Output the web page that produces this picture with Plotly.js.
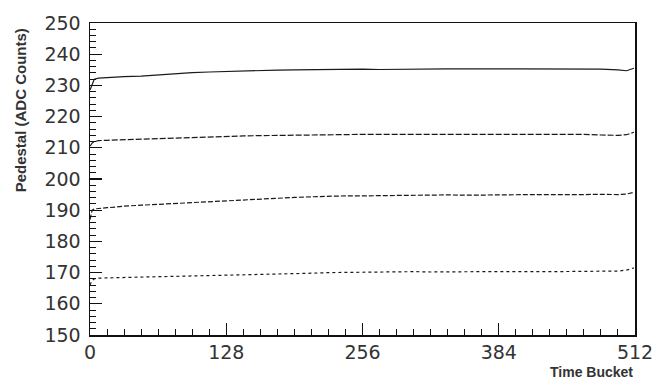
<!DOCTYPE html>
<html>
<head>
<meta charset="utf-8">
<script src="https://cdn.plot.ly/plotly-3.0.1.min.js"></script>
<style>html,body{margin:0;padding:0;background:#fff;}#chart{width:657px;height:382px;}</style>
</head>
<body>
<div id="chart"></div>
<script>
// Time bucket positions (sampled)
const bucket = [0,2,4,8,16,24,32,48,64,80,96,112,128,144,160,176,192,208,224,240,256,272,288,304,320,336,352,368,384,400,416,432,448,464,480,496,504,511];

// Pedestal values (ADC counts), one array per channel
const chanA = [228.5,230.5,232.0,232.3,232.5,232.6,232.8,233.0,233.4,233.8,234.1,234.3,234.5,234.7,234.8,234.9,235.0,235.1,235.0,235.2,235.2,235.1,235.2,235.3,235.2,235.3,235.3,235.2,235.3,235.3,235.3,235.4,235.3,235.2,235.2,235.0,234.7,235.5];
const chanB = [210.5,211.5,212.0,212.3,212.4,212.5,212.6,212.8,213.0,213.2,213.4,213.6,213.7,213.8,213.9,214.0,214.1,214.1,214.2,214.2,214.3,214.3,214.3,214.4,214.3,214.4,214.4,214.3,214.4,214.4,214.3,214.4,214.4,214.3,214.1,214.0,214.2,215.0];
const chanC = [187.0,190.0,190.4,190.6,190.8,191.0,191.3,191.6,191.9,192.1,192.4,192.7,193.0,193.3,193.7,193.9,194.1,194.3,194.5,194.6,194.6,194.7,194.8,194.8,194.9,194.9,194.8,194.9,195.0,194.9,195.0,195.0,194.9,195.0,195.1,195.0,195.2,195.7];
const chanD = [166.0,167.5,168.0,168.2,168.3,168.4,168.5,168.6,168.7,168.8,168.9,169.0,169.1,169.2,169.3,169.4,169.6,169.8,170.0,170.1,170.1,170.2,170.2,170.3,170.2,170.3,170.4,170.3,170.3,170.2,170.3,170.3,170.4,170.3,170.4,170.5,170.8,171.5];

const xTicks = [0,128,256,384,512];
const yTicks = [150,160,170,180,190,200,210,220,230,240,250];

const series = [chanA, chanB, chanC, chanD];
const dashes = ['solid','6px,2px','5px,2px','3px,3px'];
const traces = series.map((v,i)=>({
  x: bucket, y: v, type:'scatter', mode:'lines',
  line:{color:'#1a1a1a', width:1.2, dash:dashes[i]},
  hoverinfo:'skip', showlegend:false
}));

const tickFont = {family:'DejaVu Sans, sans-serif', size:19, color:'#333'};
const layout = {
  width:657, height:382,
  margin:{l:90, r:22, t:23, b:47, pad:0},
  paper_bgcolor:'#fff', plot_bgcolor:'#fff',
  xaxis:{range:[0,512], tickvals:xTicks, ticktext:xTicks.map(String),
    ticks:'inside', ticklen:12, tickwidth:1.2, tickcolor:'#111',
    minor:{dtick:16, ticks:'inside', ticklen:6, tickwidth:1, tickcolor:'#111', showgrid:false},
    showline:true, linecolor:'#111', linewidth:1.5, mirror:true,
    showgrid:false, zeroline:false, tickfont:tickFont, fixedrange:true},
  yaxis:{range:[150,250], tickvals:yTicks, ticktext:yTicks.map(String),
    ticks:'inside', ticklen:12, tickwidth:1.2, tickcolor:'#111',
    minor:{dtick:2, ticks:'inside', ticklen:6, tickwidth:1, tickcolor:'#111', showgrid:false},
    showline:true, linecolor:'#111', linewidth:1.5, mirror:true,
    showgrid:false, zeroline:false, tickfont:tickFont, ticklabelstandoff:4, fixedrange:true},
  annotations:[
    {text:'<b>Pedestal (ADC Counts)</b>', xref:'paper', yref:'paper', x:-0.128, y:0.99,
     xanchor:'center', yanchor:'top', textangle:-90, showarrow:false,
     font:{family:'Liberation Sans, Arial, sans-serif', size:15, color:'#333'}},
    {text:'<b>Time Bucket</b>', xref:'paper', yref:'paper', x:1.0, y:-0.119,
     xanchor:'right', yanchor:'middle', showarrow:false,
     font:{family:'Liberation Sans, Arial, sans-serif', size:14, color:'#333'}}
  ]
};
Plotly.newPlot('chart', traces, layout, {staticPlot:true, displayModeBar:false});
</script>
</body>
</html>
